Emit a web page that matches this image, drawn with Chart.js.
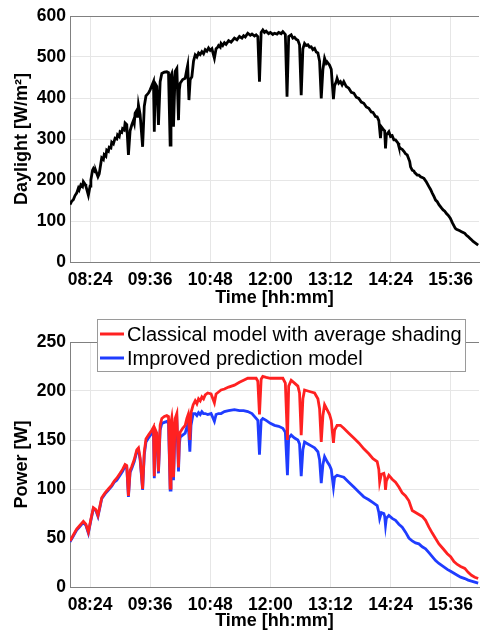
<!DOCTYPE html>
<html>
<head>
<meta charset="utf-8">
<script src="https://cdn.jsdelivr.net/npm/chart.js@4"></script>
<style>
  body { margin: 0; background: #fff; }
  #cima { position: absolute; left: 0; top: 0; width: 481px; height: 310px; }
  #baixo { position: absolute; left: 0; top: 310px; width: 481px; height: 323px; }
</style>
</head>
<body>
<div id="cima"><canvas id="luz"></canvas></div>
<div id="baixo"><canvas id="potencia"></canvas></div>
<script>
// tempo em minutos desde meia-noite
var tempoLuz = [480,482,484,486,488,490,491,493,495,496,498,499,502,504,505,507,508,510,511,513.5,515,516,518,520,521,523,524,526,527,529,530,532,534,536,537,539,540,542,543,545,546,548,550,552,554,556,557,558,560,561,562,564,567,569,571,574,576,578,580,581,582,584,586,588,590,593,596,598,600,601,602,603,604,606,608,610,611,612,615,618,620,621,622.5,624,626,628,630,632,634,636,638,640,642,644,646,648,650,653,655,657,658,660,661,663,665,667,670,673,677,680,683,686,688,690,693,696,698,701,703,705,707,709,711,713,715,718,720,723,725,728,730,733,735,738,740,742,745,747,749,751,753,755,757,759,761,763,765,767,769,771,773,775,777,779,781,783,785,787,788,791,793,795.6,797,799,800,802,804,806,808,811,814,817,820,823,826,829,832,835,838,841,843,846,848,850,852,853,856,857,858,859,862,864,866,868,870,873,874,876,878,880,882,884,887,888,890,892,893,896,898,900,902,904,907,910,912,914,916,918,920,922,925,927,929,931,933,935.6,938,941.6,943,945,947,949,951,953,955,957,959,961,963,965,967,969]
var luz = [140,148,152,162,168,180,176,188,184,196,190,185,163,185,200,224,228,220,222,208,215,228,254,250,262,258,273,270,280,278,292,288,302,300,310,306,318,316,325,322,339,335,261,320,334,345,338,363,370,352,383,360,281,380,405,412,420,430,440,318,435,428,334,440,460,463,464,462,285,455,460,440,330,465,472,346,420,436,445,448,470,480,395,445,452,490,505,500,510,506,513,508,518,514,522,516,520,497,520,524,528,524,533,528,535,531,540,536,546,542,550,546,552,549,558,553,556,551,554,550,440,560,566,560,563,557,560,555,558,556,560,557,562,555,403,550,554,546,548,543,541,530,407,520,533,528,530,524,525,518,521,512,510,490,399,470,497,485,488,480,470,397,430,440,448,436,440,432,440,428,424,414,412,402,399,390,387,378,375,366,365,355,354,345,302,330,322,320,277,310,318,306,308,298,298,290,282,277,275,270,264,261,245,232,224,222,218,212,212,208,206,204,195,184,177,168,160,151,147,140,132,127,124,118,114,107,96,82,80,78,76,74,72,70,65,62,58,54,50,47,44,41]

var tempoPot = [480,484,488,491,496,499,502,505,508,511,513.5,516,518,522,526,530,533,536,540,543,546,548,550,552,554,557,560,562,564,567,569,571,574,578,580,581,582,584,586,588,590,593,596,598,600,601,602,603,604,606,608,610,611,612,615,618,620,621.6,623.6,625,627.6,630,632,634,636,638,640,642,645,649,653,655,658,661,665,670,677,683,688,693,698,703,705,707,709,711,715,720,725,730,735,738,740.5,742,745,749,753,755,757,759,761,765,769,773,777,779,781,783,785,788,791,793,795.6,797,800,804,808,814,820,826,832,838,843,848,850,851,853,856,857,858,859,862,866,870,874,878,882,886,890,894,898,902,906,910,914,918,922,927,932,936,940,944,948,953,957,961,965,969]
var classico = [47,53,59,62,67,64,56,69,81,79,73,83,91,96,100,104,108,111,116,120,125,124,93,119,123,130,140,142,132,100,138,151,155,160,163,113,161,157,118,165,172,174,175,174,101,168,173,163,112,172,177,122,150,158,162,165,172,176,150,178,186,190,187,192,190,194,192,196,198,197,188,197,199,201,202,204,206,209,211,213,213,213,210,176,212,215,214,213,213,213,213,208,150,205,211,208,205,198,155,192,201,200,199,198,192,182,148,175,186,181,176,170,147,160,165,165,162,157,152,147,141,136,131,128,120,107,115,116,112,99,108,114,110,107,102,96,93,88,78,76,74,72,68,61,55,49.5,44,39,34,31,26,23,21,19,15,12,10,8.6]
var melhorado = [46,52,58,61,66,63,55,68,80,78,72,82,90,95,99,103,107,109,114,118,123,122,92,117,121,128,138,140,130,99,135,148,152,157,160,111,158,154,116,160,167,168,169,167,99,162,167,158,109,165,170,118,145,153,155,157,163,167,138,165,177,177,175,178,176,179,177,177,176,177,169,176,177,177,179,180,181,180,180,179,177,172,170,135,170,172,170,167,165,164,162,158,114,152,155,152,150,146,113,140,148,146,144,142,138,130,106,125,133,128,124,120,102,112,114,113,112,107,102,97,92,89,86,83,76,70,76,75,72,63,70,73,70,68,64,61,56,50,47,45,44,41,39,35,31,27,24,21,18,16,14,12,10,8.6,7,6,5,4]

var marcasTempo = [504,576,648,720,792,864,936]
var legendas = ['Classical model with average shading', 'Improved prediction model']
var cores = ['#ff2121', '#1f3cff']

Chart.defaults.font.family = 'Liberation Sans'
Chart.defaults.color = '#000'

function hhmm(v){
  var h = Math.floor(v / 60)
  var m = Math.round(v % 60)
  return (h < 10 ? '0' : '') + h + ':' + (m < 10 ? '0' : '') + m
}

function pontos(tempos, valores){
  return tempos.map(function(t, i){ return {x: t, y: valores[i]} })
}

// linha de cima da caixa dos eixos
var caixa = {
  id: 'caixa',
  afterDraw: function(chart){
    var a = chart.chartArea
    var ctx = chart.ctx
    ctx.save()
    ctx.strokeStyle = '#808080'
    ctx.lineWidth = 1
    ctx.beginPath()
    ctx.moveTo(a.left, a.top + 0.5)
    ctx.lineTo(a.right, a.top + 0.5)
    ctx.stroke()
    ctx.restore()
  }
}

// legenda desenhada a mao, por cima do topo do grafico
var legendaCaixa = {
  id: 'legendaCaixa',
  afterDraw: function(chart){
    var ctx = chart.ctx
    ctx.save()
    ctx.fillStyle = '#fff'
    ctx.fillRect(97, 9, 368, 52)
    ctx.strokeStyle = '#9a9a9a'
    ctx.lineWidth = 1
    ctx.strokeRect(97.5, 9.5, 368, 52)
    ctx.font = '20px "Liberation Sans"'
    ctx.textBaseline = 'middle'
    chart.data.datasets.forEach(function(ds, i){
      var y = 24 + i * 24
      ctx.strokeStyle = ds.borderColor
      ctx.lineWidth = 3
      ctx.beginPath()
      ctx.moveTo(100, y)
      ctx.lineTo(124, y)
      ctx.stroke()
      ctx.fillStyle = '#000'
      ctx.fillText(ds.label, 127, y + 1)
    })
    ctx.restore()
  }
}

function eixoX(altura){
  return {
    type: 'linear',
    min: 480,
    max: 970,
    afterBuildTicks: function(s){ s.ticks = marcasTempo.map(function(v){ return {value: v} }) },
    afterFit: function(s){ s.height = altura },
    grid: { color: '#e6e6e6', drawTicks: false },
    border: { color: '#808080' },
    ticks: { font: { size: 17.5, weight: 'bold' }, padding: 8, maxRotation: 0, autoSkip: false, callback: function(v){ return hhmm(v) } },
    title: { display: true, text: 'Time [hh:mm]', font: { size: 18, weight: 'bold' }, padding: { top: 0, bottom: 1 } }
  }
}

function eixoY(max, passo, texto){
  return {
    min: 0,
    max: max,
    afterFit: function(s){ s.width = 70 },
    grid: { color: '#e6e6e6', drawTicks: false },
    border: { color: '#808080' },
    ticks: { stepSize: passo, font: { size: 17.5, weight: 'bold' }, padding: 4 },
    title: { display: true, text: texto, font: { size: 18, weight: 'bold' }, padding: { top: 11, bottom: 0 } }
  }
}

new Chart(document.getElementById('luz'), {
  type: 'line',
  data: {
    datasets: [{
      label: 'Daylight',
      data: pontos(tempoLuz, luz),
      borderColor: '#000',
      borderWidth: 2.8,
      pointRadius: 0,
      tension: 0
    }]
  },
  options: {
    responsive: true,
    maintainAspectRatio: false,
    animation: false,
    devicePixelRatio: 1,
    layout: { padding: { top: 16, left: 0, right: 0, bottom: 0 } },
    plugins: { legend: { display: false }, tooltip: { enabled: false } },
    scales: { x: eixoX(48), y: eixoY(600, 100, 'Daylight [W/m²]') }
  },
  plugins: [caixa]
})

new Chart(document.getElementById('potencia'), {
  type: 'line',
  data: {
    datasets: [{
      label: legendas[0],
      data: pontos(tempoPot, classico),
      borderColor: cores[0],
      borderWidth: 2.8,
      pointRadius: 0,
      tension: 0
    }, {
      label: legendas[1],
      data: pontos(tempoPot, melhorado),
      borderColor: cores[1],
      borderWidth: 2.8,
      pointRadius: 0,
      tension: 0
    }]
  },
  options: {
    responsive: true,
    maintainAspectRatio: false,
    animation: false,
    devicePixelRatio: 1,
    layout: { padding: { top: 32, left: 0, right: 0, bottom: 0 } },
    plugins: { legend: { display: false }, tooltip: { enabled: false } },
    scales: { x: eixoX(46), y: eixoY(250, 50, 'Power [W]') }
  },
  plugins: [caixa, legendaCaixa]
})
</script>
</body>
</html>
